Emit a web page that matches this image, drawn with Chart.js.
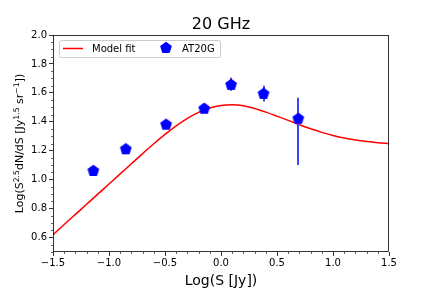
<!DOCTYPE html>
<html>
<head>
<meta charset="utf-8">
<script src="https://cdn.jsdelivr.net/npm/chart.js@4/dist/chart.umd.min.js"></script>
<style>
html,body{margin:0;padding:0;background:#fff;}
</style>
</head>
<body>
<canvas id="chart1" width="432" height="288"></canvas>
<script>
// model fit curve
var fitX = [-1.5,-1.4,-1.3,-1.2,-1.1,-1.0,-0.9,-0.8,-0.7,-0.6,-0.5,-0.4,-0.3,-0.2,-0.1,0.0,
            0.1,0.2,0.3,0.4,0.5,0.6,0.7,0.8,0.9,1.0,1.1,1.2,1.3,1.4,1.5];
var fitY = [0.62,0.69,0.76,0.83,0.90,0.97,1.04,1.11,1.18,1.248,1.313,1.372,1.424,1.465,1.495,1.513,
            1.518,1.511,1.492,1.467,1.439,1.41,1.38,1.352,1.327,1.305,1.288,1.274,1.263,1.255,1.249];

// AT20G points
var at20gX = [-1.14,-0.85,-0.49,-0.15,0.09,0.38,0.69];
var at20gY = [1.06,1.21,1.38,1.49,1.655,1.593,1.421];
var at20gErrHi = [0.01,0.01,0.01,0.01,0.05,0.057,0.145];
var at20gErrLo = [0.01,0.01,0.01,0.01,0.04,0.053,0.32];

var xTicks = [-1.5,-1.0,-0.5,0.0,0.5,1.0,1.5];
var yTicks = [0.6,0.8,1.0,1.2,1.4,1.6,1.8,2.0];

var FONT = "'DejaVu Sans', sans-serif";

function makePentagon(r, color){
    var s = 14;
    var c = document.createElement('canvas');
    c.width = s; c.height = s;
    var ctx = c.getContext('2d');
    ctx.fillStyle = color;
    ctx.beginPath();
    for (var i = 0; i < 5; i++){
        var a = -Math.PI/2 + i*2*Math.PI/5;
        var px = s/2 + r*Math.cos(a), py = s/2 + r*Math.sin(a);
        if (i == 0) ctx.moveTo(px, py); else ctx.lineTo(px, py);
    }
    ctx.closePath();
    ctx.fill();
    return c;
}
var pentagon = makePentagon(6.2, '#0000ff');

var fitData = fitX.map(function(x, i){ return {x: x, y: fitY[i]}; });
var ptData = at20gX.map(function(x, i){ return {x: x, y: at20gY[i]}; });

function fmt(v){
    return v < 0 ? '\u2212' + Math.abs(v).toFixed(1) : v.toFixed(1);
}

var extras = {
    id: 'extras',
    beforeDraw: function(chart){
        var ctx = chart.ctx;
        ctx.save();
        ctx.fillStyle = '#fff';
        ctx.fillRect(0, 0, chart.width, chart.height);
        ctx.restore();
    },
    afterDatasetDraw: function(chart, args){
        // error bars go on top of the model line, under the markers
        if (args.index != 1) return;
        var ctx = chart.ctx, xs = chart.scales.x, ys = chart.scales.y;
        ctx.save();
        ctx.strokeStyle = '#3c46ff';
        ctx.lineWidth = 2;
        for (var i = 0; i < at20gX.length; i++){
            var px = Math.round(xs.getPixelForValue(at20gX[i]));
            ctx.beginPath();
            ctx.moveTo(px, ys.getPixelForValue(at20gY[i] + at20gErrHi[i]));
            ctx.lineTo(px, ys.getPixelForValue(at20gY[i] - at20gErrLo[i]));
            ctx.stroke();
        }
        ctx.restore();
    },
    afterDraw: function(chart){
        var ctx = chart.ctx, a = chart.chartArea;
        var xs = chart.scales.x, ys = chart.scales.y;
        ctx.save();
        // frame
        ctx.strokeStyle = '#000';
        ctx.lineWidth = 0.8;
        ctx.strokeRect(a.left + 0.5, a.top + 0.5, a.right - a.left - 1, a.bottom - a.top - 1);
        // minor ticks
        ctx.lineWidth = 0.6;
        ctx.beginPath();
        for (var k = -15; k <= 15; k++){
            if (k % 5 == 0) continue;
            var px = Math.round(xs.getPixelForValue(k/10)) + 0.5;
            ctx.moveTo(px, a.bottom); ctx.lineTo(px, a.bottom + 2);
        }
        for (var j = 10; j <= 40; j++){
            if (j % 4 == 0) continue;
            var py = Math.round(ys.getPixelForValue(j*0.05)) + 0.5;
            ctx.moveTo(a.left - 2, py); ctx.lineTo(a.left, py);
        }
        ctx.stroke();

        // title
        ctx.fillStyle = '#000';
        ctx.font = '16px ' + FONT;
        ctx.textAlign = 'center';
        ctx.textBaseline = 'alphabetic';
        ctx.fillText('20 GHz', (a.left + a.right)/2, 29);

        // y label with superscripts
        var parts = [['Log(S',0],['2.5',1],['dN/dS [Jy',0],['1.5',1],[' sr',0],['\u22121',1],['])',0]];
        var big = 11, small = 7.7;
        var total = 0;
        parts.forEach(function(p){
            ctx.font = (p[1] ? small : big) + 'px ' + FONT;
            total += ctx.measureText(p[0]).width;
        });
        ctx.translate(23, (a.top + a.bottom)/2);
        ctx.rotate(-Math.PI/2);
        ctx.textAlign = 'left';
        var cx = -total/2;
        parts.forEach(function(p){
            ctx.font = (p[1] ? small : big) + 'px ' + FONT;
            ctx.fillText(p[0], cx, p[1] ? -4.5 : 0);
            cx += ctx.measureText(p[0]).width;
        });
        ctx.setTransform(1,0,0,1,0,0);

        // legend
        var lx = 59.5, ly = 40.5, lw = 161, lh = 17;
        ctx.fillStyle = 'rgba(255,255,255,0.8)';
        ctx.strokeStyle = '#cccccc';
        ctx.lineWidth = 1;
        ctx.beginPath();
        ctx.roundRect(lx, ly, lw, lh, 2);
        ctx.fill();
        ctx.stroke();
        ctx.strokeStyle = 'red';
        ctx.lineWidth = 1.5;
        ctx.beginPath();
        ctx.moveTo(63, 48.5); ctx.lineTo(83, 48.5);
        ctx.stroke();
        ctx.drawImage(pentagon, 166 - 7, 48 - 7);
        ctx.fillStyle = '#000';
        ctx.font = '10px ' + FONT;
        ctx.textBaseline = 'alphabetic';
        ctx.fillText('Model fit', 92, 52);
        ctx.fillText('AT20G', 182, 52);
        ctx.restore();
    }
};

const chart1 = document.getElementById('chart1');
new Chart(chart1, {
    type: 'scatter',
    data: {
        datasets: [{
            label: 'AT20G',
            data: ptData,
            pointStyle: pentagon,
            pointRadius: 6,
            order: 1
        }, {
            type: 'line',
            label: 'Model fit',
            data: fitData,
            borderColor: 'red',
            borderWidth: 1.5,
            pointRadius: 0,
            cubicInterpolationMode: 'monotone',
            fill: false,
            order: 2
        }]
    },
    options: {
        responsive: false,
        animation: false,
        layout: {padding: {top: 35, left: 0, right: 43, bottom: 0}},
        plugins: {legend: {display: false}, tooltip: {enabled: false}},
        scales: {
            x: {
                type: 'linear', min: -1.5, max: 1.5,
                afterBuildTicks: function(s){ s.ticks = xTicks.map(function(v){ return {value: v}; }); },
                afterFit: function(s){ s.height = 36; },
                ticks: {callback: fmt, color: '#000', font: {family: FONT, size: 10}, padding: 1, maxRotation: 0, autoSkip: false},
                grid: {drawOnChartArea: false, tickLength: 4, tickColor: '#000', tickWidth: 0.8},
                border: {display: false},
                title: {display: true, text: 'Log(S [Jy])', color: '#000', font: {family: FONT, size: 14, lineHeight: 1}, padding: {top: 0, bottom: 0}}
            },
            y: {
                type: 'linear', min: 0.5, max: 2.0,
                afterBuildTicks: function(s){ s.ticks = yTicks.map(function(v){ return {value: v}; }); },
                afterFit: function(s){ s.width = 53; },
                ticks: {callback: fmt, color: '#000', font: {family: FONT, size: 10}, padding: 2, autoSkip: false},
                grid: {drawOnChartArea: false, tickLength: 4, tickColor: '#000', tickWidth: 0.8},
                border: {display: false}
            }
        }
    },
    plugins: [extras]
});
</script>
</body>
</html>
